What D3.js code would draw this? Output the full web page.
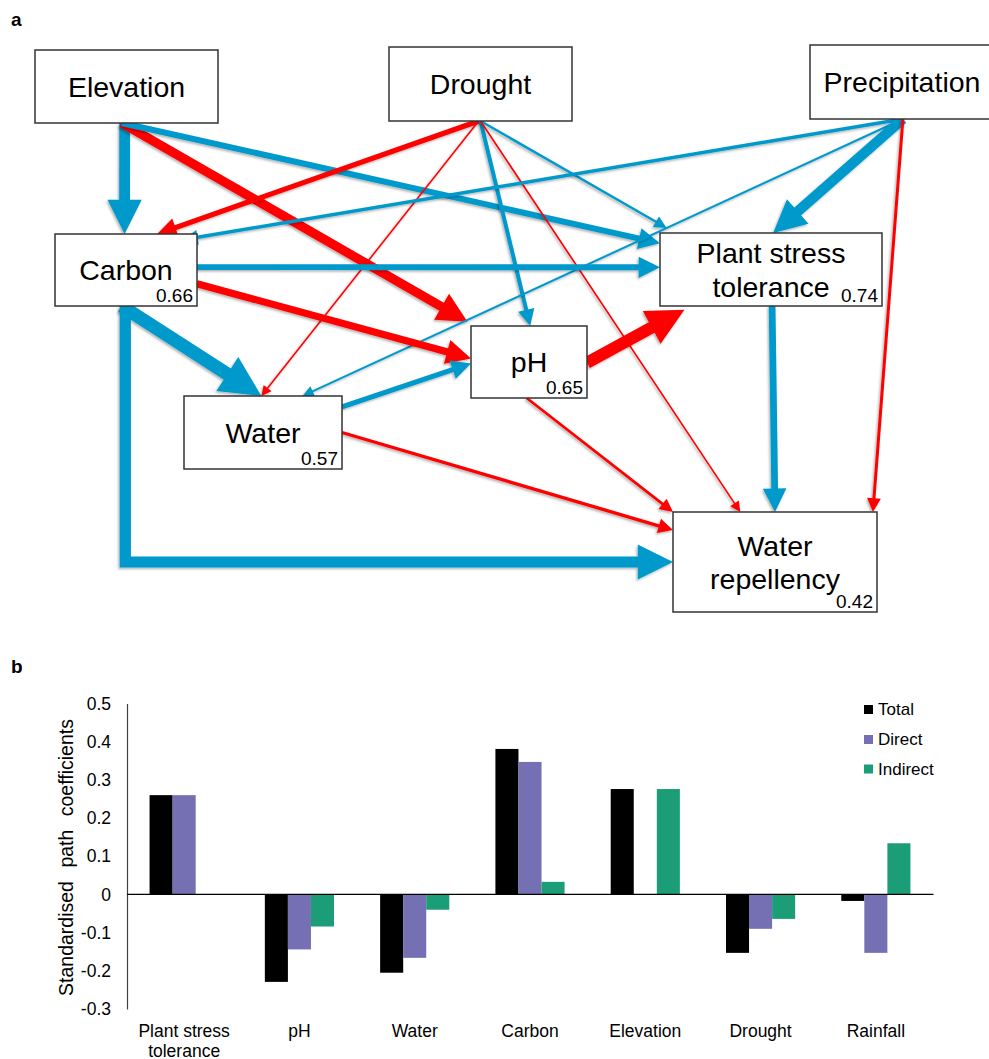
<!DOCTYPE html>
<html><head><meta charset="utf-8">
<script src="https://cdn.jsdelivr.net/npm/d3@7"></script>
<style>
body{margin:0;background:#fff}
svg{display:block}
text{font-family:"Liberation Sans",Arial,Helvetica,sans-serif;fill:#000}
</style>
</head><body>
<svg id="c" width="989" height="1059"></svg>
<script>
// ===================== DATA =====================
// Panel a: structural equation model
const nodeNames = ["Elevation","Drought","Precipitation","Carbon","Plant stress tolerance","pH","Water","Water repellency"];
const nodeR2 = [null,null,null,0.66,0.74,0.65,0.57,0.42];
const pathFrom = ["Elevation","Elevation","Elevation","Drought","Drought","Drought","Drought","Drought",
  "Precipitation","Precipitation","Precipitation","Precipitation","Carbon","Carbon","Carbon","Carbon",
  "Water","Water","pH","pH","Plant stress tolerance"];
const pathTo = ["Carbon","pH","Plant stress tolerance","Carbon","Water","pH","Plant stress tolerance","Water repellency",
  "Carbon","Water","Plant stress tolerance","Water repellency","Plant stress tolerance","pH","Water","Water repellency",
  "pH","Water repellency","Plant stress tolerance","Water repellency","Water repellency"];
const pathCoef = [0.34,-0.31,0.24,-0.22,-0.08,0.19,0.13,-0.09,
  0.17,0.11,0.33,-0.153,0.24,-0.27,0.38,0.347,
  0.22,-0.166,-0.36,-0.144,0.26];

// Panel b: standardised effects on water repellency
const categories = ["Plant stress tolerance","pH","Water","Carbon","Elevation","Drought","Rainfall"];
const seriesNames = ["Total","Direct","Indirect"];
const totalEffect = [0.26,-0.229,-0.205,0.381,0.276,-0.153,-0.017];
const directEffect = [0.26,-0.144,-0.166,0.347,0,-0.09,-0.153];
const indirectEffect = [0,-0.084,-0.04,0.033,0.276,-0.064,0.134];
const yTicks = [0.5,0.4,0.3,0.2,0.1,0,-0.1,-0.2,-0.3];

// ===================== LAYOUT / STYLE =====================
const FONT = '"Liberation Sans",Arial,Helvetica,sans-serif';
const BLUE = "#0099cc", RED = "#ff0000";
const seriesColors = ["#000000","#7570b3","#1b9e77"];
const boxLayout = {
  "Elevation": [35,50,183,73],
  "Drought": [389,47,183,74],
  "Precipitation": [810,45,184,74],
  "Carbon": [55,234,142,72],
  "Plant stress tolerance": [660,233,222,73],
  "pH": [471,326,116,72],
  "Water": [184,396,158,73],
  "Water repellency": [673,512,204,100]
};
const labelLines = {"Plant stress tolerance":["Plant stress","tolerance"],"Water repellency":["Water","repellency"]};
// anchor fractions on source / target boxes: [sfx, sfy, tfx, tfy, elbow]
const anchors = [
  [0.49,1,0.49,0],[0.475,1,-0.03,-0.06],[0.475,1,0,0.14],
  [0.49,1,0.72,0],[0.49,1,0.49,0],[0.50,1,0.51,0],[0.50,1,0.03,-0.07],[0.50,1,0.33,0],
  [0.505,1,0.9,0.08],[0.505,1,0.75,0],[0.505,1,0.51,0],[0.505,1,0.98,0],
  [1,0.46,0,0.47],[1,0.69,0,0.45],[0.47,1,0.49,0],[0.495,1,0,0.5,true],
  [1,0.15,0,0.52],[1,0.5,0,0.18],[1,0.51,0.11,1.05],[0.48,1,0,0],[0.505,1,0.5,0]
];

const svg = d3.select("#c");
svg.append("rect").attr("width",989).attr("height",1059).attr("fill","#fff");
const defs = svg.append("defs");
const flt = defs.append("filter").attr("id","sh").attr("filterUnits","userSpaceOnUse")
  .attr("x",0).attr("y",0).attr("width",989).attr("height",1059);
flt.append("feDropShadow").attr("dx",-1.3).attr("dy",1.6).attr("stdDeviation",1.3)
  .attr("flood-color","#000").attr("flood-opacity",0.3);

// panel letters
svg.append("text").attr("x",11).attr("y",26).attr("font-size",19).attr("font-weight","bold").text("a");
svg.append("text").attr("x",11).attr("y",673).attr("font-size",19).attr("font-weight","bold").text("b");

// ===================== PANEL A =====================
const wScale = d3.scalePow().exponent(2).domain([0,0.5]).range([1,22.25]);
const pt = (name,fx,fy)=>{const b=boxLayout[name];return [b[0]+fx*b[2], b[1]+fy*b[3]];};
const gA = svg.append("g");

function drawArrow(pts,w,color){
  const g = gA.append("g").attr("filter","url(#sh)");
  const L = Math.max(9.5, 2.6*w+6), H = L;
  const n = pts.length, [tx,ty] = pts[n-1], [px,py] = pts[n-2];
  const dx = tx-px, dy = ty-py, len = Math.hypot(dx,dy), ux = dx/len, uy = dy/len;
  const bx = tx-ux*L, by = ty-uy*L;
  const shaft = pts.slice(0,n-1).concat([[bx+ux*1.5, by+uy*1.5]]);
  g.append("path").attr("d", d3.line()(shaft)).attr("fill","none")
    .attr("stroke",color).attr("stroke-width",w).attr("stroke-linejoin","miter");
  g.append("path").attr("d",
    `M${tx},${ty}L${bx-uy*H/2},${by+ux*H/2}L${bx+uy*H/2},${by-ux*H/2}Z`).attr("fill",color);
}

pathFrom.forEach((src,i)=>{
  const a = anchors[i];
  const p1 = pt(src,a[0],a[1]), p2 = pt(pathTo[i],a[2],a[3]);
  const pts = a[4] ? [p1,[p1[0],p2[1]],p2] : [p1,p2];
  drawArrow(pts, wScale(Math.abs(pathCoef[i])), pathCoef[i] >= 0 ? BLUE : RED);
});

// boxes
const nodeG = gA.selectAll("g.node").data(nodeNames).join("g").attr("class","node");
nodeG.append("rect")
  .attr("x",d=>boxLayout[d][0]).attr("y",d=>boxLayout[d][1])
  .attr("width",d=>boxLayout[d][2]).attr("height",d=>boxLayout[d][3])
  .attr("fill","#fff").attr("stroke","#333").attr("stroke-width",1.5);
const NFS = 28.5;
nodeG.each(function(d,i){
  const b = boxLayout[d], g = d3.select(this);
  const lines = labelLines[d] || [d];
  const cx = b[0]+b[2]/2, cy = b[1]+b[3]/2, lh = 33.5;
  lines.forEach((ln,k)=>{
    const yc = cy + (k-(lines.length-1)/2)*lh;
    g.append("text").attr("x",cx).attr("y",yc+0.36*NFS).attr("text-anchor","middle")
      .attr("font-size",NFS).text(ln);
  });
  if(nodeR2[i]!==null){
    g.append("text").attr("x",b[0]+b[2]-4).attr("y",b[1]+b[3]-4).attr("text-anchor","end")
      .attr("font-size",19).text(nodeR2[i].toFixed(2));
  }
});

// ===================== PANEL B =====================
const x0 = d3.scaleBand().domain(categories).range([126.5,933.5]).paddingInner(0.4).paddingOuter(0.2);
const x1 = d3.scaleBand().domain(seriesNames).range([0,x0.bandwidth()]);
const y = d3.scaleLinear().domain([-0.3,0.5]).range([1009,703.5]);
const seriesVals = [totalEffect,directEffect,indirectEffect];
const gB = svg.append("g");

const barData = [];
categories.forEach((c,i)=>seriesNames.forEach((s,j)=>barData.push({c,s,j,v:seriesVals[j][i]})));
gB.selectAll("rect.bar").data(barData.filter(d=>d.v!==0)).join("rect").attr("class","bar")
  .attr("x",d=>x0(d.c)+x1(d.s)).attr("width",x1.bandwidth())
  .attr("y",d=>y(Math.max(0,d.v))).attr("height",d=>Math.abs(y(d.v)-y(0)))
  .attr("fill",d=>seriesColors[d.j]);

const yAxis = gB.append("g").attr("transform","translate(127,0)")
  .call(d3.axisLeft(y).tickValues(yTicks).tickSize(0).tickSizeOuter(0).tickPadding(16)
    .tickFormat(d=>String(Math.round(d*10)/10)));
yAxis.select(".domain").attr("stroke","#404040").attr("stroke-width",1.2);
yAxis.selectAll("text").attr("font-size",17.5).attr("font-family",FONT).attr("fill","#000");

gB.append("line").attr("x1",127).attr("x2",933.5).attr("y1",y(0)).attr("y2",y(0))
  .attr("stroke","#000").attr("stroke-width",1.3);

gB.append("text").attr("transform","translate(73,857.5) rotate(-90)").attr("text-anchor","middle")
  .attr("font-size",19.5).style("word-spacing","8px").text("Standardised path coefficients");

// category labels with wrapping
const XFS = 17.5;
categories.forEach(c=>{
  const t = gB.append("text").attr("text-anchor","middle").attr("font-size",XFS);
  const cx = x0(c)+x0.bandwidth()/2;
  const words = c.split(" ");
  let line = [], lines = [];
  const tmp = gB.append("text").attr("font-size",XFS).attr("visibility","hidden");
  words.forEach(w=>{
    const test = line.concat([w]).join(" ");
    tmp.text(test);
    if(line.length && tmp.node().getComputedTextLength() > x0.step()-10){ lines.push(line.join(" ")); line=[w]; }
    else line.push(w);
  });
  lines.push(line.join(" "));
  tmp.remove();
  lines.forEach((ln,k)=>t.append("tspan").attr("x",cx).attr("y",1037+k*19.5).text(ln));
});

// legend
const legBase = [715,745,774.5];
seriesNames.forEach((s,j)=>{
  gB.append("rect").attr("x",864).attr("y",legBase[j]-10).attr("width",9).attr("height",9).attr("fill",seriesColors[j]);
  gB.append("text").attr("x",878).attr("y",legBase[j]).attr("font-size",17).text(s);
});
</script>
</body></html>
